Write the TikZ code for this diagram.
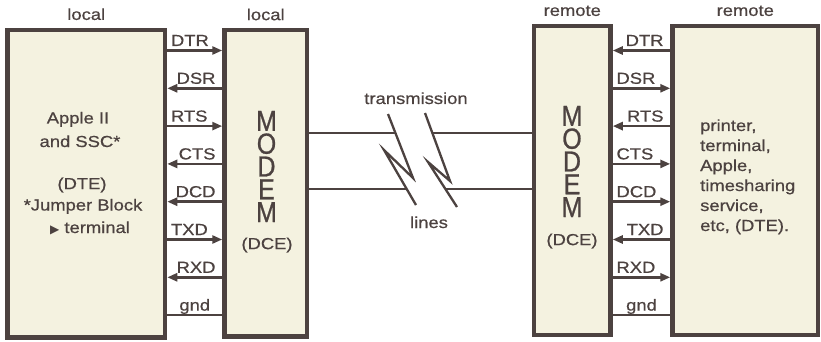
\documentclass[tikz,border=0pt]{standalone}
\usepackage{fontspec}
\setmainfont[FakeStretch=1.15, FakeBold=0.6]{Liberation Sans}
\newfontfamily\modemfont[FakeStretch=0.86, FakeBold=0.8]{Liberation Sans}
\newfontfamily\symbfont{DejaVu Sans}
\usetikzlibrary{arrows.meta, positioning}

\definecolor{tinte}{RGB}{76,66,64}
\definecolor{papier}{RGB}{244,242,224}

\tikzset{
	kasten/.style={draw=tinte, fill=papier, line width=4.5pt, inner sep=0pt},
	leitung/.style={draw=tinte, line width=2.5pt},
	pfeil/.style={leitung, -{Triangle[length=10pt, width=8pt]}},
	schrift/.style={text=tinte, inner sep=0pt, font=\fontsize{16}{22}\selectfont},
	zeile/.style={schrift, anchor=base},
	labr/.style={schrift, anchor=base west, xshift=2.5pt, yshift=4.5pt},
	labl/.style={schrift, anchor=base east, xshift=-5.5pt, yshift=4.5pt},
	modem/.style={text=tinte, inner sep=0pt, align=center, font=\modemfont\fontsize{29}{22.8}\selectfont}
}

\begin{document}
\begin{tikzpicture}[x=1pt, y=-1pt]
	\path[use as bounding box, fill=white] (0,0) rectangle (821,342);
	
	% Zeichnet die vier Kaesten
	\node[kasten, minimum width=157.5pt, minimum height=307.5pt] (dte) at (86.25,183.75) {};
	\node[kasten, minimum width=82.5pt, minimum height=306pt] (lmodem) at (265.75,183.25) {};
	\node[kasten, minimum width=76.5pt, minimum height=309pt] (rmodem) at (572.25,180.5) {};
	\node[kasten, minimum width=145.5pt, minimum height=309pt] (rdte) at (745.25,180.5) {};
	
	% Beschriftung ueber den Kaesten
	\node[schrift, above=7.5pt of dte] (dteort) {local};
	\node[schrift, above=7.5pt of lmodem] (lmodemort) {local};
	\node[schrift, above=7.5pt of rmodem] (rmodemort) {remote};
	\node[schrift, above=7.5pt of rdte] (rdteort) {remote};
	
	% Text im lokalen Rechner
	\node[zeile] (apple1) at (78,123.5) {Apple II};
	\node[zeile] (apple2) at (80,147) {and SSC*};
	\node[schrift] (dtelinks) at (82,185) {(DTE)};
	\node[zeile] (jumper1) at (83,210.5) {*Jumper Block};
	\node[zeile] (jumper2) at (90,233) {{\symbfont\fontsize{12}{12}\selectfont ▶} terminal};
	
	% Text im entfernten Rechner
	\node[zeile, anchor=base west] (geraet1) at (700,131) {printer,};
	\node[zeile, anchor=base west] (geraet2) at (700,151) {terminal,};
	\node[zeile, anchor=base west] (geraet3) at (700,171) {Apple,};
	\node[zeile, anchor=base west] (geraet4) at (700,191) {timesharing};
	\node[zeile, anchor=base west] (geraet5) at (700,211) {service,};
	\node[zeile, anchor=base west] (geraet6) at (700,231) {etc, (DTE).};
	
	% Schreibt MODEM senkrecht in beide Modems
	\node[modem] (lmodemtxt) at (266.5,166.5) {M\\O\\D\\E\\M};
	\node[schrift] (ldce) at (267,245) {(DCE)};
	\node[modem] (rmodemtxt) at (572,161.5) {M\\O\\D\\E\\M};
	\node[schrift] (rdce) at (572,241) {(DCE)};
	
	% Signalleitungen lokal (Rechner <-> Modem)
	\draw[pfeil] (dte.east |- 0,50.5) -- (lmodem.west |- 0,50.5) node[pos=0, labr] (ldtr) {DTR};
	\draw[pfeil] (lmodem.west |- 0,88.3) -- (dte.east |- 0,88.3) node[pos=0, labl] (ldsr) {DSR};
	\draw[pfeil] (dte.east |- 0,126.1) -- (lmodem.west |- 0,126.1) node[pos=0, labr] (lrts) {RTS};
	\draw[pfeil] (lmodem.west |- 0,163.9) -- (dte.east |- 0,163.9) node[pos=0, labl] (lcts) {CTS};
	\draw[pfeil] (lmodem.west |- 0,201.7) -- (dte.east |- 0,201.7) node[pos=0, labl] (ldcd) {DCD};
	\draw[pfeil] (dte.east |- 0,239.5) -- (lmodem.west |- 0,239.5) node[pos=0, labr] (ltxd) {TXD};
	\draw[pfeil] (lmodem.west |- 0,277.3) -- (dte.east |- 0,277.3) node[pos=0, labl] (lrxd) {RXD};
	\draw[leitung] (dte.east |- 0,315.1) -- (lmodem.west |- 0,315.1) node[midway, schrift, anchor=base, yshift=4.5pt] (lgnd) {gnd};
	
	% Signalleitungen entfernt (Modem <-> Geraet)
	\draw[pfeil] (rdte.west |- 0,50.5) -- (rmodem.east |- 0,50.5) node[pos=0, labl] (rdtr) {DTR};
	\draw[pfeil] (rmodem.east |- 0,88.3) -- (rdte.west |- 0,88.3) node[pos=0, labr] (rdsr) {DSR};
	\draw[pfeil] (rdte.west |- 0,126.1) -- (rmodem.east |- 0,126.1) node[pos=0, labl] (rrts) {RTS};
	\draw[pfeil] (rmodem.east |- 0,163.9) -- (rdte.west |- 0,163.9) node[pos=0, labr] (rcts) {CTS};
	\draw[pfeil] (rmodem.east |- 0,201.7) -- (rdte.west |- 0,201.7) node[pos=0, labr] (rdcd) {DCD};
	\draw[pfeil] (rdte.west |- 0,239.5) -- (rmodem.east |- 0,239.5) node[pos=0, labl] (rtxd) {TXD};
	\draw[pfeil] (rmodem.east |- 0,277.3) -- (rdte.west |- 0,277.3) node[pos=0, labr] (rrxd) {RXD};
	\draw[leitung] (rmodem.east |- 0,315.1) -- (rdte.west |- 0,315.1) node[midway, schrift, anchor=base, yshift=4.5pt] (rgnd) {gnd};
	
	% Bruchstellen der Uebertragungsleitung (zwei Blitze)
	\coordinate (b1o) at (395.4,133);
	\coordinate (b1u) at (406.7,189);
	\coordinate (b2o) at (432.4,133);
	\coordinate (b2u) at (445.4,189);
	\draw[leitung, line width=2.3pt] (388,114) -- (413,178) -- (384,150) -- (416,205);
	\draw[leitung, line width=2.3pt] (425,113) -- (450,181) -- (428,162) -- (457,207);
	
	% Zeichnet die beiden Uebertragungsleitungen
	\draw[leitung, line width=2.3pt] (lmodem.east |- b1o) -- (b1o);
	\draw[leitung, line width=2.3pt] (b2o) -- (rmodem.west |- b2o);
	\draw[leitung, line width=2.3pt] (lmodem.east |- b1u) -- (b1u);
	\draw[leitung, line width=2.3pt] (b2u) -- (rmodem.west |- b2u);
	
	% Beschriftung der Leitung
	\node[zeile] (trans) at (416,104) {transmission};
	\node[zeile] (lines) at (429,228) {lines};
	
\end{tikzpicture}
\end{document}
